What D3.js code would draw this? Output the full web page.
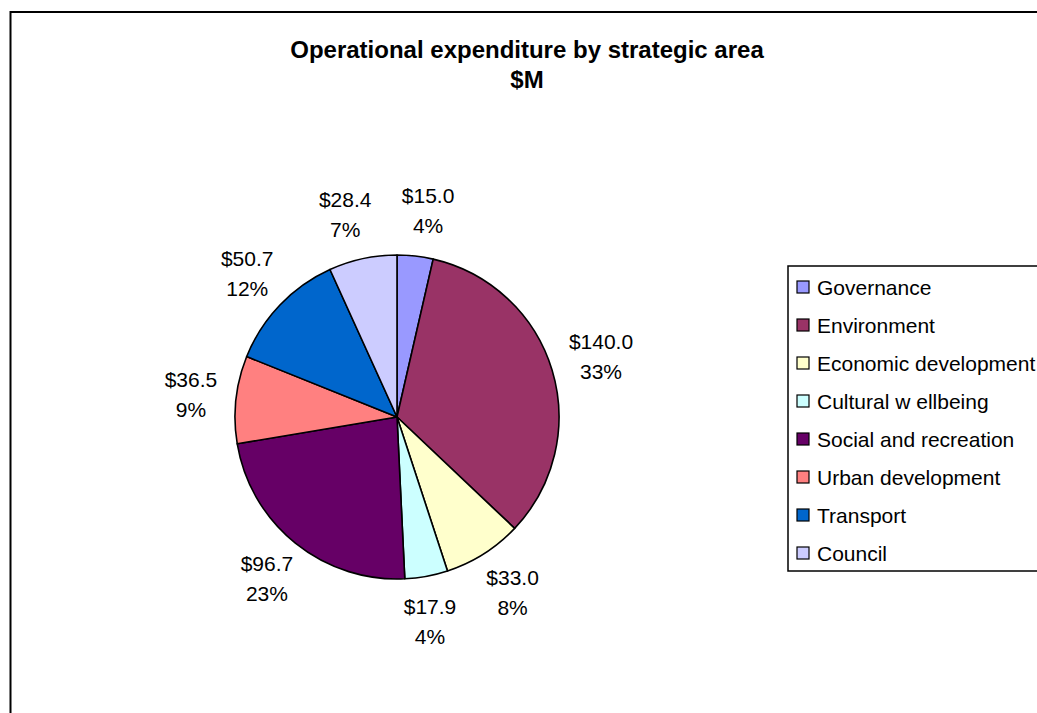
<!DOCTYPE html>
<html>
<head>
<meta charset="utf-8">
<script src="https://cdn.jsdelivr.net/npm/d3@7"></script>
<style>
  html, body { margin: 0; padding: 0; background: #fff; overflow: hidden; }
  svg { display: block; font-family: "Liberation Sans", Arial, sans-serif; }
</style>
</head>
<body>
<svg id="chart" width="1037" height="713"></svg>
<script>
// Operational expenditure by strategic area ($M)
const categories = [
  "Governance", "Environment", "Economic development", "Cultural w ellbeing",
  "Social and recreation", "Urban development", "Transport", "Council"
];
const values = [15.0, 140.0, 33.0, 17.9, 96.7, 36.5, 50.7, 28.4];
const colors = ["#9999FF", "#993366", "#FFFFCC", "#CCFFFF", "#660066", "#FF8080", "#0066CC", "#CCCCFF"];
const titleLines = ["Operational expenditure by strategic area", "$M"];

const svg = d3.select("#chart");
const W = 1037, H = 713;

// chart frame
svg.append("rect")
  .attr("x", 10.5).attr("y", 12)
  .attr("width", W + 50).attr("height", H + 50)
  .attr("fill", "#fff").attr("stroke", "#000").attr("stroke-width", 2);

// title
svg.append("text")
  .attr("x", 527).attr("y", 58)
  .attr("text-anchor", "middle")
  .attr("font-size", 24).attr("font-weight", "bold")
  .selectAll("tspan").data(titleLines).join("tspan")
  .attr("x", 527).attr("dy", (d, i) => i === 0 ? 0 : 30)
  .text(d => d);

// pie
const cx = 397, cy = 417, R = 162;
const data = categories.map((c, i) => ({ name: c, value: values[i], color: colors[i] }));
const total = d3.sum(values);
const pie = d3.pie().value(d => d.value).sort(null);
const arcs = pie(data);
const arc = d3.arc().innerRadius(0).outerRadius(R);

const g = svg.append("g").attr("transform", `translate(${cx},${cy})`);
g.selectAll("path.slice").data(arcs).join("path")
  .attr("class", "slice")
  .attr("d", arc)
  .attr("fill", d => d.data.color)
  .attr("stroke", "#000").attr("stroke-width", 1.6)
  .attr("stroke-linejoin", "round");

// data labels: value and share, placed just outside each slice
const fmtPct = d => Math.round(d / total * 100) + "%";
const labelFont = 21, lineGap = 30;
const gap = 19, clearance = 30;
const boxes = [];
const labels = g.selectAll("g.lbl").data(arcs).join("g").attr("class", "lbl");
labels.each(function (d) {
  const a = (d.startAngle + d.endAngle) / 2;
  const lines = ["$" + d.data.value.toFixed(1), fmtPct(d.data.value)];
  const t = d3.select(this).append("text")
    .attr("text-anchor", "middle")
    .attr("font-size", labelFont)
    .attr("fill", "#000");
  t.selectAll("tspan").data(lines).join("tspan")
    .attr("x", 0).attr("dy", (l, i) => i === 0 ? 0 : lineGap)
    .text(l => l);
  const bb = t.node().getBBox();
  const w = bb.width, h = bb.height;
  const ax = Math.sin(a) * (R + gap), ay = -Math.cos(a) * (R + gap);
  boxes.push({
    t, bb, w, h,
    x: ax + Math.sin(a) * w / 2,
    y: ay - Math.cos(a) * h / 2
  });
});

// keep neighbouring labels apart horizontally
for (let iter = 0; iter < 10; iter++) {
  for (let i = 0; i < boxes.length; i++) {
    for (let j = i + 1; j < boxes.length; j++) {
      const p = boxes[i], q = boxes[j];
      const vOverlap = Math.abs(p.y - q.y) < (p.h + q.h) / 2;
      const need = (p.w + q.w) / 2 + clearance - Math.abs(p.x - q.x);
      if (vOverlap && need > 0) {
        const s = p.x < q.x ? -1 : 1;
        p.x += s * need / 2;
        q.x -= s * need / 2;
      }
    }
  }
}

boxes.forEach(b => {
  const ox = b.x - (b.bb.x + b.w / 2);
  const oy = b.y - (b.bb.y + b.h / 2);
  b.t.attr("transform", `translate(${ox},${oy})`);
});

// legend
const lx = 788, ly = 266, lh = 305;
const legend = svg.append("g");
legend.append("rect")
  .attr("x", lx).attr("y", ly)
  .attr("width", 300).attr("height", lh)
  .attr("fill", "#fff").attr("stroke", "#000").attr("stroke-width", 1.5);
const rowY = d3.scalePoint().domain(categories).range([287, 553]);
const items = legend.selectAll("g.item").data(data).join("g").attr("class", "item")
  .attr("transform", d => `translate(0,${rowY(d.name)})`);
items.append("rect")
  .attr("x", 797).attr("y", -6)
  .attr("width", 12).attr("height", 12)
  .attr("fill", d => d.color)
  .attr("stroke", "#000").attr("stroke-width", 1.2);
items.append("text")
  .attr("x", 817).attr("y", 7.5)
  .attr("font-size", 21)
  .text(d => d.name);
</script>
</body>
</html>
